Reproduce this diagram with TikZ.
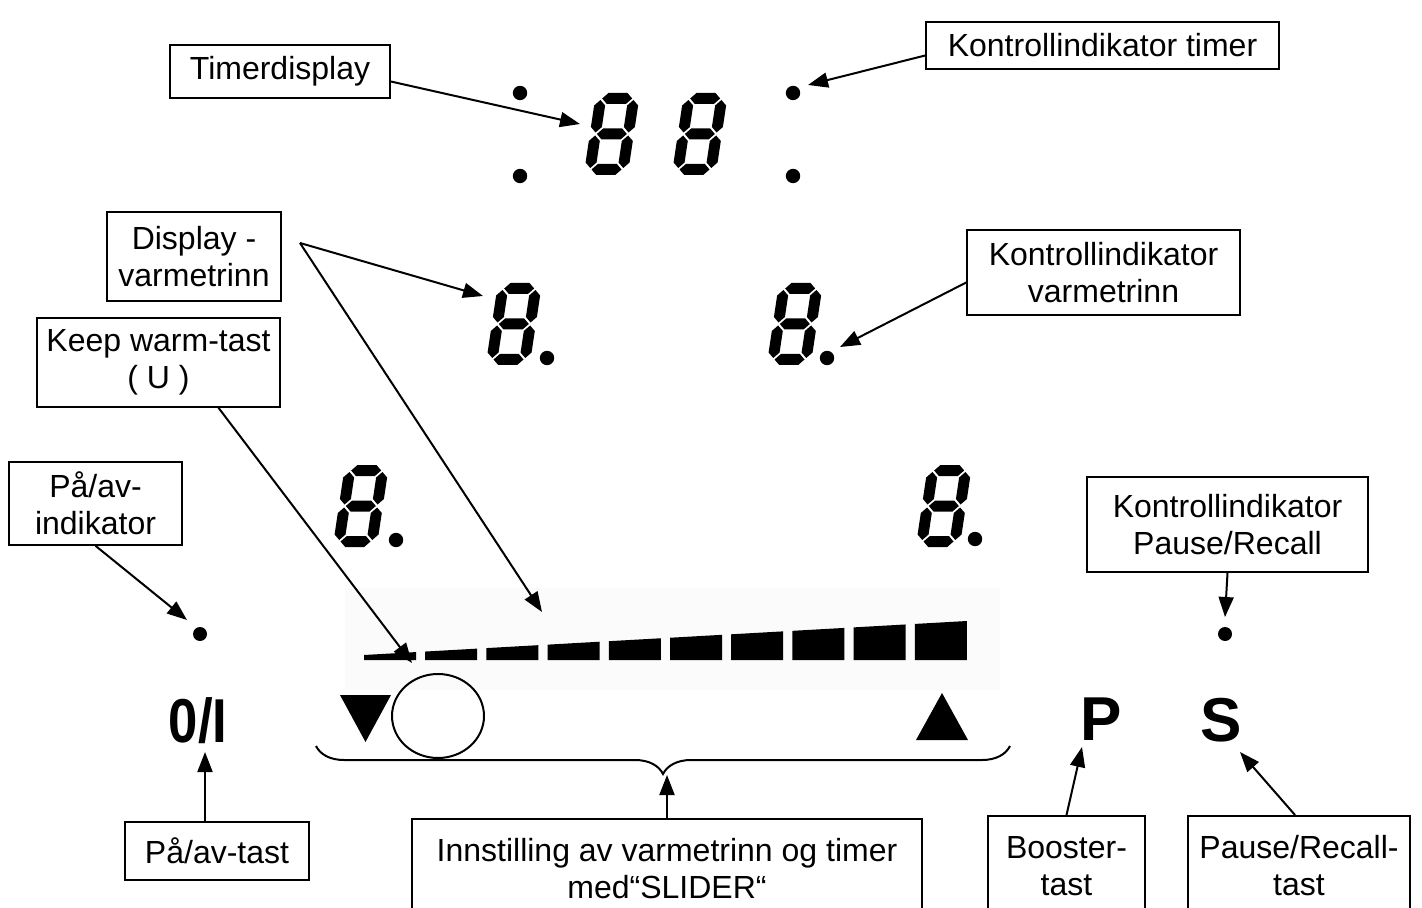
\documentclass[tikz,border=0pt]{standalone}
\usepackage{fontspec}
\setmainfont{Liberation Sans}
\newfontfamily\keyfont[FakeStretch=0.85]{Liberation Sans}
\usetikzlibrary{arrows.meta, decorations.pathreplacing}
\newcommand{\hseg}[3]{\fill (#1,#3) -- (#1+5.5,#3-5.5) -- (#2-5.5,#3-5.5) -- (#2,#3) -- (#2-5.5,#3+5.5) -- (#1+5.5,#3+5.5) -- cycle;}
\newcommand{\vseg}[3]{\fill (#1,#2) -- (#1+5.5,#2+5.5) -- (#1+5.5,#3-5.5) -- (#1,#3) -- (#1-5.5,#3-5.5) -- (#1-5.5,#2+5.5) -- cycle;}
\tikzset{>={Stealth[length=10pt,width=7.5pt,inset=0pt]},
lbl/.style={draw, line width=0.8pt, align=center, inner sep=0pt, font=\fontsize{16}{18.5}\selectfont},
sz/.style 2 args={minimum width=#1*0.5pt, minimum height=#2*0.5pt},
ptr/.style={->, line width=1pt},
keytxt/.style={inner sep=0pt, anchor=base, font=\fontsize{31}{31}\selectfont\bfseries},
seg8/.pic={
  \begin{scope}[xslant=0.15]
    \hseg{7}{37}{5.5} \hseg{7}{37}{41} \hseg{7}{37}{76.5}
    \vseg{5.5}{7}{39.5} \vseg{38.5}{7}{39.5}
    \vseg{5.5}{42.5}{75} \vseg{38.5}{42.5}{75}
  \end{scope}},
}

\begin{document}
\begin{tikzpicture}[x=0.5pt, y=-0.5pt]
\useasboundingbox (0,0) rectangle (1422,908);
\clip (0,0) rectangle (1422,908);

    \fill[black!1.5] (345,588) rectangle (1000,690);

    \pic at (596,93) {seg8};
    \pic at (684,93) {seg8};
    \pic at (498,283) {seg8};
    \pic at (779,283) {seg8};
    \pic at (345,465) {seg8};
    \pic at (928,465) {seg8};

    \foreach \x/\y in {520/93, 520/176, 793/93, 793/176, 547/358, 827/358, 396/540, 975/539}
      \fill (\x,\y) circle (3.6pt);
    \fill (200,634) coordinate (padot) circle (3.5pt);
    \fill (1225,634) coordinate (psdot) circle (3.5pt);

    \foreach \i in {0,...,9} {
      \pgfmathsetmacro{\xa}{364+61.2*\i}
      \pgfmathsetmacro{\xb}{\xa+52}
      \pgfmathsetmacro{\ya}{655-(\xa-364)*0.0564}
      \pgfmathsetmacro{\yb}{655-(\xb-364)*0.0564}
      \fill (\xa,660) -- (\xa,\ya) -- (\xb,\yb) -- (\xb,660) -- cycle;
    }

    \draw[line width=1pt] (438,716) ellipse (23pt and 21pt);
    \fill (340,695) -- (391,695) -- (365.5,742) -- cycle;
    \fill (942,693) -- (968,740) -- (916,740) -- cycle;

    \node[keytxt] (onoff) at (198,742) {\keyfont 0/I};
    \node[keytxt] (pkey) at (1101,740) {P};
    \node[keytxt] (skey) at (1221,741) {S};

    \draw[decorate, decoration={brace, mirror, amplitude=14pt}, line width=1pt]
      (316,746) -- (1010,746);

    \node[lbl, sz={220}{53}] (tdisp) at (280,71.5) {Timerdisplay};
    \node[lbl, sz={353}{47}] (kitimer) at (1102.5,45.5) {Kontrollindikator timer};
    \node[lbl, sz={174}{89}] (dispv) at (194,256.5) {Display -\\varmetrinn};
    \node[lbl, sz={273}{85}] (kivarm) at (1103.5,272.5) {Kontrollindikator\\varmetrinn};
    \node[lbl, sz={243}{89}] (keepw) at (158.5,362.5) {Keep warm-tast\\( U )};
    \node[lbl, sz={173}{83}] (paind) at (95.5,503.5) {På/av-\\indikator};
    \node[lbl, sz={281}{95}] (kipause) at (1227.5,524.5) {Kontrollindikator\\Pause/Recall};
    \node[lbl, sz={184}{58}] (patast) at (217,851) {På/av-tast};
    \node[lbl, sz={510}{100}, anchor=north] (slider) at (667,818) {Innstilling av varmetrinn og timer\\med“SLIDER“};
    \node[lbl, sz={157}{100}, anchor=north] (booster) at (1066.5,815) {Booster-\\tast};
    \node[lbl, sz={222}{100}, anchor=north] (pstast) at (1299,815) {Pause/Recall-\\tast};

    \coordinate (tdtip) at (580,124);
    \coordinate (kttip) at (808,85);
    \coordinate (dvfork) at (300,243);
    \coordinate (dvtip) at (483,296);
    \coordinate (sltip) at (542,612);
    \coordinate (kvtip) at (840,347);
    \coordinate (kwtip) at (412,663);
    \coordinate (patip) at (187,620);
    \coordinate (pstip) at (1225,617);
    \coordinate (ontip) at (205,752);
    \coordinate (brtip) at (667,775);
    \coordinate (bttip) at (1082,747);
    \coordinate (sktip) at (1240,752);

    \draw[ptr] ([yshift=-5pt]tdisp.east) -- (tdtip);
    \draw[ptr] ([yshift=-5pt]kitimer.west) -- (kttip);
    \draw[ptr] (dvfork) -- (dvtip);
    \draw[ptr] (dvfork) -- (sltip);
    \draw[ptr] ([yshift=-5pt]kivarm.west) -- (kvtip);
    \draw[ptr] ([xshift=30pt]keepw.south) -- (kwtip);
    \draw[ptr] (paind.south) -- (patip);
    \draw[ptr] (kipause.south) -- (pstip);
    \draw[ptr] ([xshift=-6pt]patast.north) -- (ontip);
    \draw[ptr] (slider.north) -- (brtip);
    \draw[ptr] (booster.north) -- (bttip);
    \draw[ptr] ([xshift=-2pt]pstast.north) -- (sktip);
\end{tikzpicture}
\end{document}
